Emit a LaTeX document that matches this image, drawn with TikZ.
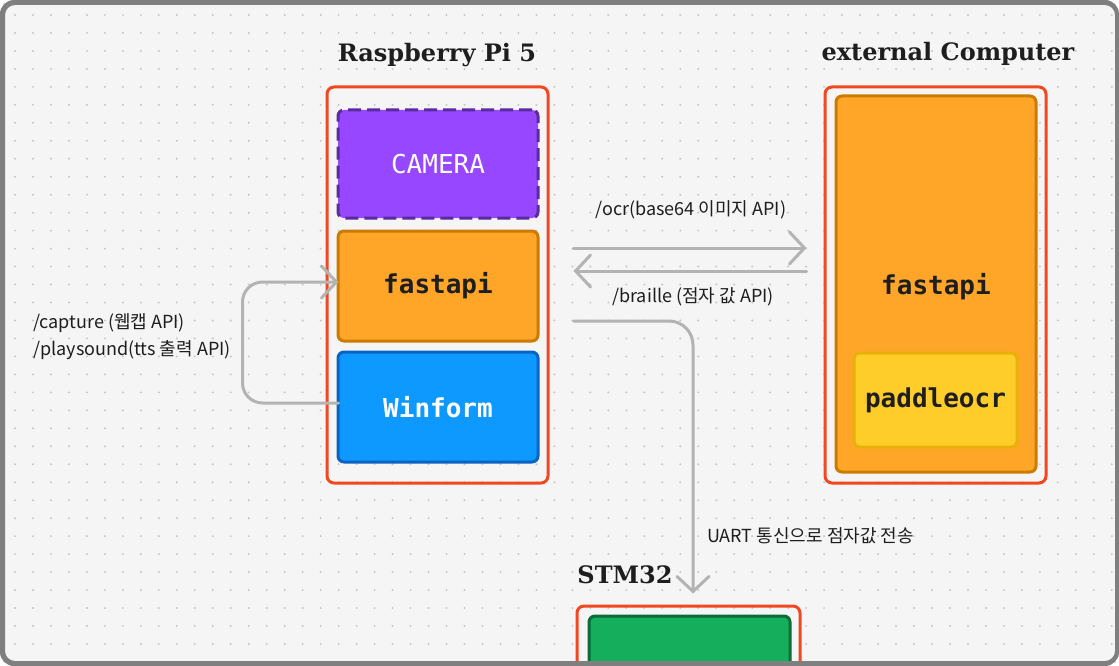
\documentclass[tikz,border=0pt]{standalone}
\usepackage{fontspec}
\usetikzlibrary{arrows.meta,calc}
\newfontfamily\kofont{Noto Sans CJK KR}
\newfontfamily\ttlfont{DejaVu Serif}
\newfontfamily\mfont{DejaVu Sans Mono}
\definecolor{bgc}{HTML}{F5F5F5}
\definecolor{dotc}{HTML}{C6C6C6}
\definecolor{framec}{HTML}{7F7F7F}
\definecolor{redc}{HTML}{F24822}
\definecolor{purf}{HTML}{9747FF}
\definecolor{purd}{HTML}{5B2A9E}
\definecolor{orf}{HTML}{FFA629}
\definecolor{ord}{HTML}{CC7A00}
\definecolor{bluf}{HTML}{0D99FF}
\definecolor{blud}{HTML}{0A62C4}
\definecolor{yelf}{HTML}{FFCD29}
\definecolor{yeld}{HTML}{E8B10A}
\definecolor{grnf}{HTML}{14AE5C}
\definecolor{grnd}{HTML}{0B6B39}
\definecolor{arrc}{HTML}{B3B3B3}
\definecolor{txtc}{HTML}{1E1E1E}
\tikzset{
  container/.style={draw=redc, line width=3pt, rounded corners=7pt, inner sep=0pt},
  box/.style={line width=3pt, rounded corners=6pt, inner sep=0pt, minimum width=200pt, font=\mfont\bfseries\fontsize{26}{29}\selectfont},
  ttl/.style={font=\ttlfont\bfseries\fontsize{24}{28}\selectfont, text=txtc, inner sep=0pt},
  lbl/.style={font=\kofont\fontsize{18}{27}\selectfont, text=txtc, inner sep=0pt},
  conn/.style={draw=arrc, line width=3pt, line cap=round, -{Straight Barb[length=15pt,width=32pt,line cap=round]}},
}
\begin{document}
\begin{tikzpicture}[x=1pt,y=-1pt]
\useasboundingbox (0,0) rectangle (1119,666);
\fill[white] (0,0) rectangle (1119,666);
\fill[bgc] (3,3) rectangle (1116,663);
\foreach \i in {0,...,61} {
  \foreach \j in {0,...,36} {
    \fill[dotc] (15+17.98*\i, 15+17.97*\j) circle (1.1);
  }
}
% Raspberry Pi
\node[ttl] (t1) at (437,55) {Raspberry Pi 5};
\node[container, minimum width=221pt, minimum height=396pt] (rpi) at (437.5,285) {};
\node[box, draw=purd, fill=purf, dash pattern=on 13pt off 6pt, minimum height=108pt, text=white, font=\mfont\fontsize{26}{29}\selectfont] (cam) at (438,164) {CAMERA};
\node[box, draw=ord, fill=orf, minimum height=110pt, text=txtc] (fa1) at (438,286) {fastapi};
\node[box, draw=blud, fill=bluf, minimum height=110pt, text=white] (wf) at (438,407) {Winform};
% external
\node[ttl] (t2) at (948,54) {external Computer};
\node[container, minimum width=221pt, minimum height=396pt] (ext) at (935.5,285) {};
\node[box, draw=ord, fill=orf, minimum height=376pt, text=txtc, text depth=0pt] (fa2) at (936,284) {fastapi};
\node[box, draw=yeld, fill=yelf, minimum width=163pt, minimum height=94pt, text=txtc] (pad) at (935.5,400) {paddleocr};
% STM32
\node[ttl] (t3) at (625,575) {STM32};
\node[container, minimum width=223pt, minimum height=120pt] (stm) at (688.5,666) {};
\node[box, draw=grnd, fill=grnf, minimum width=201pt, minimum height=110pt] (stmb) at (689.5,671) {};
% connectors
\draw[conn] ($(fa1.east)+(34,-38)$) -- ($(fa2.west)+(-28,-36)$);
\draw[conn] ($(fa2.west)+(-28,-13)$) -- ($(fa1.east)+(34,-15)$);
\draw[conn, rounded corners=24pt] ($(fa1.east)+(34,35)$) -| ($(stm.north)+(4.5,-11)$);
\draw[conn, rounded corners=20pt] ($(wf.west)+(2,-4)$) -- ++(-96,0) |- ($(fa1.west)+(2,-4)$);
% labels
\node[lbl] (l1) at (691,210) {/ocr(base64 이미지 API)};
\node[lbl] (l2) at (693,297) {/braille (점자 값 API)};
\node[lbl, anchor=west] (l3) at (707,536) {UART 통신으로 점자값 전송};
\node[lbl, anchor=west, align=left] (l4) at (33,336.5) {/capture (웹캡 API)\\/playsound(tts 출력 API)};
% frame
\fill[framec, even odd rule] [rounded corners=14pt] (0,0) rectangle (1119,666) [rounded corners=10pt] (5,5) rectangle (1115,661);
\end{tikzpicture}
\end{document}
